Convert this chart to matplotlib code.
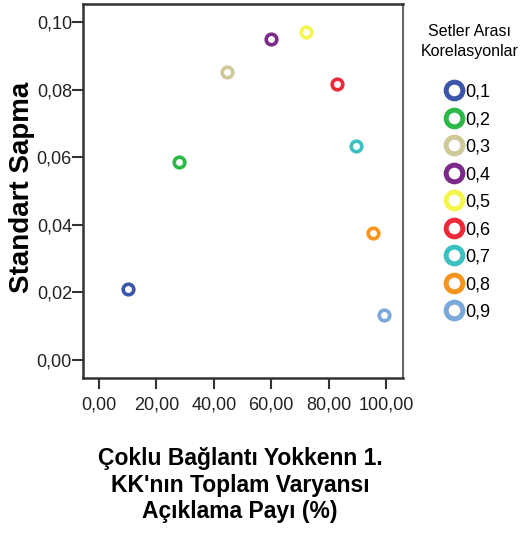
import matplotlib.pyplot as plt
from matplotlib.lines import Line2D
from matplotlib.ticker import FuncFormatter

plt.rcParams['font.family'] = ['Liberation Sans', 'DejaVu Sans']

# Data
korelasyon = ['0,1', '0,2', '0,3', '0,4', '0,5', '0,6', '0,7', '0,8', '0,9']
aciklama_payi = [10.1, 27.9, 44.6, 59.9, 72.1, 82.9, 89.5, 95.5, 99.3]
standart_sapma = [0.0210, 0.0586, 0.0852, 0.0950, 0.0970, 0.0817, 0.0633, 0.0376, 0.0133]
renkler = ['#3b55a8', '#2db84a', '#cfc99a', '#7b2a8a', '#f6f54c',
           '#ee2a3a', '#3cc0c0', '#f7941d', '#7aa8d8']

fig = plt.figure(figsize=(5.21, 5.35), dpi=100)
ax = fig.add_axes([0.1593, 0.2935, 0.6142, 0.699])

for x, y, c in zip(aciklama_payi, standart_sapma, renkler):
    ax.scatter(x, y, s=58, facecolors='white', edgecolors=c, linewidths=2.6, zorder=3)

ax.set_xlim(-5.6, 105.9)
ax.set_ylim(-0.0053, 0.1053)
ax.set_xticks([0, 20, 40, 60, 80, 100])
ax.set_yticks([0, 0.02, 0.04, 0.06, 0.08, 0.10])
ax.xaxis.set_major_formatter(FuncFormatter(lambda v, p: f'{v:.2f}'.replace('.', ',')))
ax.yaxis.set_major_formatter(FuncFormatter(lambda v, p: f'{v:.2f}'.replace('.', ',')))
ax.tick_params(axis='both', length=8, width=1.5, color='#333333', labelsize=13,
               labelcolor='#222222')
ax.tick_params(axis='x', pad=5)
ax.tick_params(axis='y', pad=0)

for side in ['left', 'bottom', 'top']:
    ax.spines[side].set_color('#333333')
    ax.spines[side].set_linewidth(1.8)
ax.spines['right'].set_color('#666666')
ax.spines['right'].set_linewidth(1.5)

# axis titles
fig.text(0.043, 0.6495, 'Standart Sapma', fontsize=20, fontweight='bold',
         rotation=90, ha='center', va='center')
fig.text(0.461, 0.093, "Çoklu Bağlantı Yokkenn 1.\nKK'nın Toplam Varyansı\nAçıklama Payı (%)",
         fontsize=16.5, fontweight='bold', ha='center', va='center',
         multialignment='center', linespacing=1.2)

# legend
fig.text(0.902, 0.923, 'Setler Arası\nKorelasyonlar', fontsize=11.5,
         ha='center', va='center', multialignment='center', linespacing=1.4)
handles = [Line2D([], [], linestyle='none', marker='o', markersize=12,
                  markerfacecolor='white', markeredgecolor=c, markeredgewidth=3.6)
           for c in renkler]
fig.legend(handles, korelasyon, loc='upper center', bbox_to_anchor=(0.899, 0.8435),
           frameon=False, fontsize=13, handlelength=0.8, handletextpad=0.2,
           labelspacing=0.58, borderaxespad=0, borderpad=0)

fig.savefig('out.png', dpi=100)
